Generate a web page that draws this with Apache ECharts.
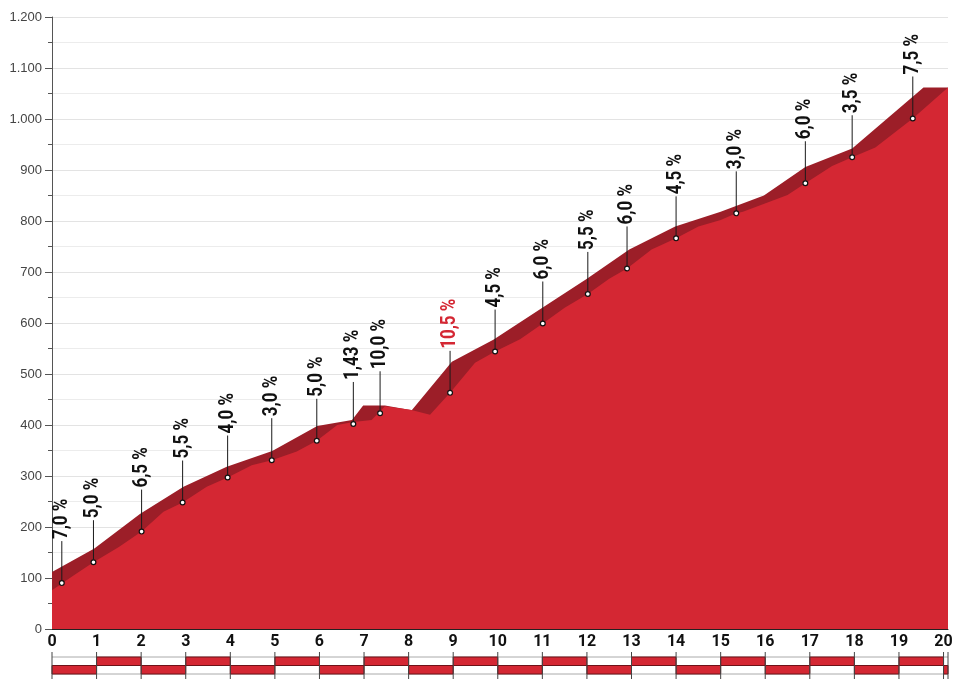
<!DOCTYPE html>
<html>
<head>
<meta charset="utf-8">
<title>Höhenprofil</title>
<script src="https://cdn.jsdelivr.net/npm/echarts@6/dist/echarts.min.js"></script>
<style>
  html, body { margin: 0; padding: 0; background: #fff; }
  #chart { width: 960px; height: 689px; }
</style>
</head>
<body>
<div id="chart"></div>
<script>
// 距离（km）与海拔（m）
var totalKm = 20.1;

// 后侧（上沿）剖面线
var backKm  = [0, 0.95, 1.98, 2.95, 3.92, 4.94, 5.95, 6.73, 6.98, 7.47, 8.07, 8.97, 9.9, 11.0, 12.0, 12.95, 13.98, 15.0, 15.97, 16.9, 17.95, 19.55, 20.1];
var backAlt = [112, 158, 226, 279, 318, 349, 398, 410, 438, 438, 429, 524, 567, 630, 687, 744, 789, 818, 850, 906, 942, 1062, 1062];

// 前侧剖面线
var frontKm  = [0, 0.45, 0.93, 1.5, 2.01, 2.5, 2.93, 3.47, 3.94, 4.48, 4.93, 5.49, 5.94, 6.4, 6.76, 7.17, 7.47, 8.04, 8.48, 8.93, 9.49, 9.94, 10.5, 11.01, 11.5, 12.02, 12.5, 12.9, 13.45, 14.0, 14.5, 15.0, 15.35, 15.5, 16.5, 16.9, 17.5, 17.95, 18.47, 19.31, 20.1];
var frontAlt = [76, 103, 131, 161, 191, 230, 248, 279, 297, 321, 331, 348, 369, 400, 406, 410, 437, 430, 420, 463, 522, 544, 568, 599, 630, 657, 687, 707, 744, 766, 789, 802, 815, 818, 851, 874, 908, 925, 944, 1001, 1062];

// 坡度标注
var gradeKm   = [0.22, 0.93, 2.01, 2.93, 3.94, 4.93, 5.94, 6.76, 7.36, 8.93, 9.94, 11.01, 12.02, 12.9, 14.0, 15.35, 16.9, 17.95, 19.31];
var gradeAlt  = [90, 131, 191, 248, 297, 331, 369, 402, 423, 463, 544, 599, 657, 707, 766, 815, 874, 925, 1001];
var gradeText = ['7,0 %', '5,0 %', '6,5 %', '5,5 %', '4,0 %', '3,0 %', '5,0 %', '1,43 %', '10,0 %', '10,5 %', '4,5 %', '6,0 %', '5,5 %', '6,0 %', '4,5 %', '3,0 %', '6,0 %', '3,5 %', '7,5 %'];
var gradeHot  = [false, false, false, false, false, false, false, false, false, true, false, false, false, false, false, false, false, false, false];

// 公里刻度（底部条带）
var kmMarks = [0, 1, 2, 3, 4, 5, 6, 7, 8, 9, 10, 11, 12, 13, 14, 15, 16, 17, 18, 19, 20, 20.1];

var RED = '#d42733';
var DARK = '#9c1e28';
var FONT = 'Roboto, "Noto Sans", sans-serif';

function zip(a, b) {
    return a.map(function (v, i) { return [v, b[i]]; });
}

var segments = [];
for (var i = 0; i < kmMarks.length - 1; i++) {
    segments.push([kmMarks[i], kmMarks[i + 1]]);
}

var chart = echarts.init(document.getElementById('chart'));

var option = {
    animation: false,
    backgroundColor: '#fff',
    grid: [
        { left: 52, right: 12, top: 17, bottom: 60 },
        { left: 52, right: 12, top: 657, height: 17 }
    ],
    xAxis: [{
        type: 'value',
        gridIndex: 0,
        min: 0,
        max: totalKm,
        interval: 1,
        axisLine: { lineStyle: { color: '#222', width: 1 } },
        axisTick: { show: false },
        splitLine: { show: false },
        axisLabel: {
            margin: 5,
            color: '#111',
            fontFamily: FONT,
            fontWeight: 'bold',
            fontSize: 16,
            formatter: function (v) { return v % 1 === 0 ? String(v) : ''; }
        }
    }, {
        type: 'value',
        gridIndex: 1,
        min: 0,
        max: totalKm,
        show: false
    }],
    yAxis: [{
        type: 'value',
        gridIndex: 0,
        min: 0,
        max: 1200,
        interval: 100,
        axisLine: { show: true, lineStyle: { color: '#555', width: 1 } },
        axisTick: { show: true, length: 7, lineStyle: { color: '#555' } },
        minorTick: { show: true, splitNumber: 2, length: 4, lineStyle: { color: '#555' } },
        splitLine: { lineStyle: { color: '#e3e3e3', width: 1 } },
        minorSplitLine: { show: true, lineStyle: { color: '#ececec', width: 1 } },
        axisLabel: {
            margin: 10,
            color: '#444',
            fontFamily: '"Liberation Sans", Arial, sans-serif',
            fontSize: 13,
            formatter: function (v) {
                if (v >= 1000) {
                    var r = String(v % 1000);
                    while (r.length < 3) r = '0' + r;
                    return Math.floor(v / 1000) + '.' + r;
                }
                return String(v);
            }
        }
    }, {
        type: 'value',
        gridIndex: 1,
        min: 0,
        max: 2,
        show: false
    }],
    series: [
        {
            name: 'back',
            type: 'line',
            xAxisIndex: 0,
            yAxisIndex: 0,
            data: zip(backKm, backAlt),
            symbol: 'none',
            lineStyle: { width: 0 },
            areaStyle: { color: DARK, opacity: 1 },
            z: 2
        },
        {
            name: 'front',
            type: 'line',
            xAxisIndex: 0,
            yAxisIndex: 0,
            data: zip(frontKm, frontAlt),
            symbol: 'none',
            lineStyle: { width: 0 },
            areaStyle: { color: RED, opacity: 1 },
            z: 3
        },
        {
            // 坡度标注：竖线 + 圆点 + 旋转文字
            name: 'grades',
            type: 'custom',
            xAxisIndex: 0,
            yAxisIndex: 0,
            data: zip(gradeKm, gradeAlt),
            clip: false,
            z: 5,
            renderItem: function (params, api) {
                var p = api.coord([api.value(0), api.value(1)]);
                var idx = params.dataIndex;
                var stem = 42;
                return {
                    type: 'group',
                    children: [{
                        type: 'line',
                        shape: { x1: p[0], y1: p[1], x2: p[0], y2: p[1] - stem },
                        style: { stroke: '#1a1a1a', lineWidth: 1 }
                    }, {
                        type: 'circle',
                        shape: { cx: p[0], cy: p[1], r: 2.4 },
                        style: { fill: '#fff', stroke: '#111', lineWidth: 1.2 }
                    }, {
                        type: 'text',
                        x: p[0],
                        y: p[1] - stem - 2,
                        rotation: Math.PI / 2,
                        scaleX: 0.85,
                        style: {
                            text: gradeText[idx],
                            fill: gradeHot[idx] ? RED : '#111',
                            font: 'bold 20px ' + FONT,
                            align: 'left',
                            verticalAlign: 'middle'
                        }
                    }]
                };
            }
        },
        {
            // 底部公里条带
            name: 'kmbar',
            type: 'custom',
            xAxisIndex: 1,
            yAxisIndex: 1,
            data: segments,
            clip: false,
            z: 4,
            renderItem: function (params, api) {
                var s = api.value(0), e = api.value(1), i = params.dataIndex;
                var tl = api.coord([s, 2]);
                var mr = api.coord([e, 1]);
                var br = api.coord([e, 0]);
                var w = mr[0] - tl[0];
                var children = [{
                    type: 'line',
                    shape: { x1: tl[0], y1: tl[1], x2: br[0], y2: tl[1] },
                    style: { stroke: '#aaa', lineWidth: 1 }
                }, {
                    type: 'line',
                    shape: { x1: tl[0], y1: br[1], x2: br[0], y2: br[1] },
                    style: { stroke: '#aaa', lineWidth: 1 }
                }];
                if (i % 2 === 1) {
                    children.push({
                        type: 'rect',
                        shape: { x: tl[0], y: tl[1], width: w, height: mr[1] - tl[1] },
                        style: { fill: RED, stroke: '#6e1218', lineWidth: 1 }
                    });
                } else {
                    children.push({
                        type: 'rect',
                        shape: { x: tl[0], y: mr[1], width: w, height: br[1] - mr[1] },
                        style: { fill: RED, stroke: '#6e1218', lineWidth: 1 }
                    });
                }
                children.push({
                    type: 'line',
                    shape: { x1: tl[0], y1: tl[1] - 5, x2: tl[0], y2: br[1] + 5 },
                    style: { stroke: '#444', lineWidth: 1 }
                });
                if (i === segments.length - 1) {
                    children.push({
                        type: 'line',
                        shape: { x1: br[0], y1: tl[1] - 5, x2: br[0], y2: br[1] + 5 },
                        style: { stroke: '#444', lineWidth: 1 }
                    });
                }
                return { type: 'group', children: children };
            }
        }
    ]
};

chart.setOption(option);
</script>
</body>
</html>
